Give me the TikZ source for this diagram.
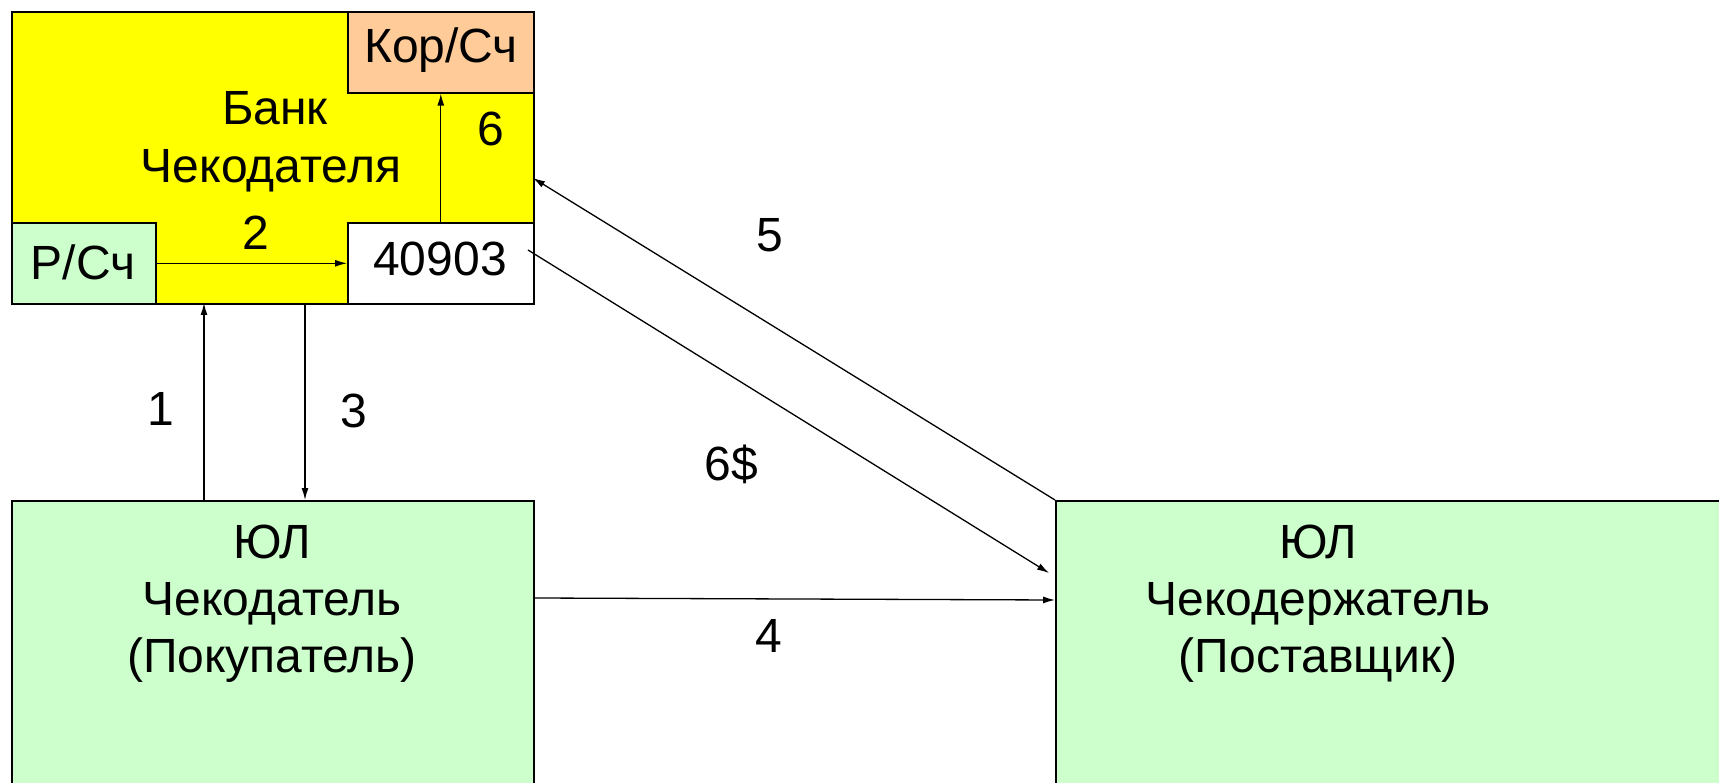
\documentclass[tikz,border=0pt]{standalone}
\usepackage{fontspec}
\setmainfont{Liberation Sans}
\usetikzlibrary{arrows.meta,calc}
\definecolor{bankyel}{HTML}{FFFF00}
\definecolor{lgreen}{HTML}{CCFFCC}
\definecolor{peach}{HTML}{FFCC99}
\begin{document}
\begin{tikzpicture}[x=1pt,y=-1pt,
  box/.style={draw=black,line width=1.6pt,inner sep=0pt,anchor=north west},
  lbl/.style={font=\fontsize{48}{56}\selectfont,inner sep=0pt,anchor=base},
  conn/.style={line width=1.3pt,-{Latex[length=12pt,width=7pt]}}]
\useasboundingbox (0,0) rectangle (1719,783);
\fill[white] (0,0) rectangle (1719,783);
\clip (0,0) rectangle (1719,783);
% bank
\node[box,fill=bankyel,minimum width=522pt,minimum height=292pt] (bank) at (11,11) {};
\node[box,fill=peach,minimum width=186pt,minimum height=81pt] (kor) at (347,11) {};
\node[box,fill=lgreen,minimum width=144pt,minimum height=81pt] (rsch) at (11,222) {};
\node[box,fill=white,minimum width=186pt,minimum height=81pt] (acc) at (347,222) {};
% bottom boxes
\node[box,fill=lgreen,minimum width=522pt,minimum height=320pt] (buyer) at (11,500) {};
\node[box,fill=lgreen,minimum width=700pt,minimum height=320pt] (seller) at (1055,500) {};
% texts
\node[lbl] (korT) at (441,63) {Кор/Сч};
\node[lbl] (bankT1) at (275,125) {Банк};
\node[lbl] (bankT2) at (271,183) {Чекодателя};
\node[lbl] (rschT) at (83,280) {Р/Сч};
\node[lbl] (accT) at (440,276) {40903};
\node[lbl] (b1) at (272,558) {ЮЛ};
\node[lbl] (b2) at (272,615) {Чекодатель};
\node[lbl] (b3) at (272,672) {(Покупатель)};
\node[lbl] (s1) at (1318,558) {ЮЛ};
\node[lbl] (s2) at (1318,615) {Чекодержатель};
\node[lbl] (s3) at (1318,672) {(Поставщик)};
% numbers
\node[lbl] (n2) at (256,250) {2};
\node[lbl] (n6) at (491,146) {6};
\node[lbl] (n1) at (161,425) {1};
\node[lbl] (n3) at (354,428) {3};
\node[lbl] (n5) at (770,252) {5};
\node[lbl] (n6d) at (731,480) {6\$};
\node[lbl] (n4) at (769,652) {4};
% connectors
\draw[conn] (rsch.east) -- (acc.west);
\draw[conn] (acc.north) -- (kor.south);
\coordinate (c1a) at (204,500);
\coordinate (c1b) at (204,303);
\draw[conn] (c1a) -- (c1b);
\coordinate (c3a) at (305,303);
\coordinate (c3b) at (305,500);
\draw[conn] (c3a) -- (c3b);
\coordinate (c4a) at (535,598);
\coordinate (c4b) at (1055,600);
\draw[conn] (c4a) -- (c4b);
\coordinate (c5b) at (533,178);
\draw[conn] (seller.north west) -- (c5b);
\coordinate (c6a) at (528,250);
\coordinate (c6b) at (1049,573);
\draw[conn] (c6a) -- (c6b);
\end{tikzpicture}
\end{document}
